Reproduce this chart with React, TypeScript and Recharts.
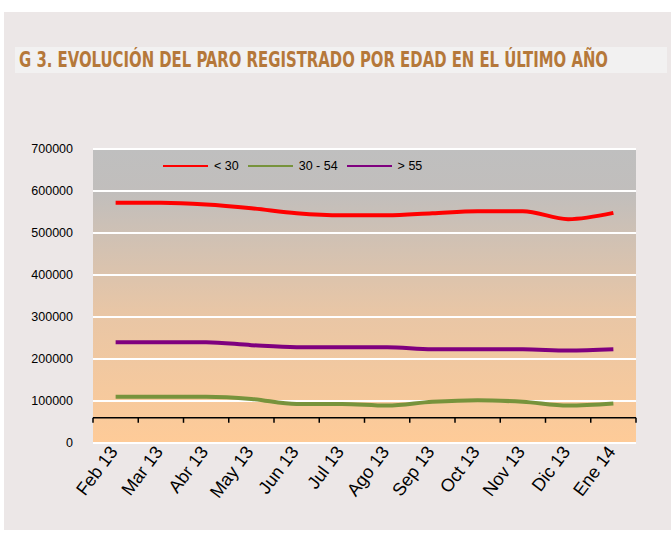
import React from "react";
import {
  ComposedChart,
  Line,
  XAxis,
  YAxis,
  CartesianGrid,
  ReferenceLine,
} from "recharts";

const months = [
  "Feb 13",
  "Mar 13",
  "Abr 13",
  "May 13",
  "Jun 13",
  "Jul 13",
  "Ago 13",
  "Sep 13",
  "Oct 13",
  "Nov 13",
  "Dic 13",
  "Ene 14",
];

const under30 = [572000, 572000, 568000, 559000, 547000, 542000, 542000, 547000, 552000, 552000, 533000, 548000];
const from30to54 = [110000, 110000, 110000, 105000, 93000, 93000, 89000, 98000, 102000, 98000, 89000, 94000];
const over55 = [240000, 240000, 240000, 233000, 228000, 228000, 228000, 223000, 223000, 223000, 220000, 223000];

const yTicks = [0, 100000, 200000, 300000, 400000, 500000, 600000, 700000];
const axisCross = 60000;

const series = [
  { key: "u30", name: "< 30", color: "#ff0000", values: under30 },
  { key: "m30", name: "30 - 54", color: "#77933c", values: from30to54 },
  { key: "o55", name: "> 55", color: "#7f007f", values: over55 },
];

const data = months.map((m, i) => ({
  month: m,
  u30: under30[i],
  m30: from30to54[i],
  o55: over55[i],
}));

const FONT = "'Liberation Sans', Arial, sans-serif";

function MonthTick(props: any) {
  const { x, y, payload } = props;
  const ax = x + 3;
  const ay = y + 1;
  return (
    <text
      x={ax}
      y={ay}
      transform={`rotate(-53, ${ax}, ${ay})`}
      textAnchor="end"
      fontFamily={FONT}
      fontSize={18}
      fill="#000"
    >
      {payload.value}
    </text>
  );
}

function AxisLine(props: any) {
  const { x1, y1, x2 } = props;
  const step = (x2 - x1) / months.length;
  const marks = Array.from({ length: months.length + 1 }, (_, i) => x1 + i * step);
  return (
    <g>
      <line x1={x1} y1={y1} x2={x2} y2={y1} stroke="#000" strokeWidth={1.5} />
      {marks.map((mx, i) => (
        <line key={i} x1={mx} y1={y1} x2={mx} y2={y1 + 5} stroke="#000" strokeWidth={1.5} />
      ))}
    </g>
  );
}

function LegendBox() {
  return (
    <div style={{ display: "flex", alignItems: "center", fontFamily: FONT, fontSize: 12.5, color: "#000" }}>
      {series.map((s) => (
        <div key={s.key} style={{ display: "flex", alignItems: "center", marginRight: 9 }}>
          <div style={{ width: 45, height: 2, background: s.color, marginRight: 6 }} />
          <span>{s.name}</span>
        </div>
      ))}
    </div>
  );
}

export default function App() {
  return (
    <div style={{ position: "absolute", left: 0, top: 0, width: 671, height: 534, background: "#fff" }}>
      <div style={{ position: "absolute", left: 4, top: 12, width: 667, height: 518, background: "#ece7e7" }} />
      <div style={{ position: "absolute", left: 15, top: 47, width: 652, height: 26, background: "#f2f1f1" }} />
      <svg style={{ position: "absolute", left: 0, top: 0 }} width={671} height={80}>
        <text
          transform="translate(19, 67) scale(1, 1.25)"
          x={0}
          y={0}
          textLength={589}
          lengthAdjust="spacingAndGlyphs"
          fontFamily="'DejaVu Sans Condensed', 'Liberation Sans Narrow', sans-serif"
          fontWeight="bold"
          fontSize={17}
          fill="#b5783a"
        >
          G 3. EVOLUCIÓN DEL PARO REGISTRADO POR EDAD EN EL ÚLTIMO AÑO
        </text>
      </svg>
      <div style={{ position: "absolute", left: 0, top: 0 }}>
        <ComposedChart
          width={671}
          height={534}
          data={data}
          margin={{ top: 149, right: 35, left: 17, bottom: 11 }}
        >
          <defs>
            <linearGradient id="plotBg" x1="0" y1="0" x2="0" y2="1">
              <stop offset="0%" stopColor="#bfbfbf" />
              <stop offset="15%" stopColor="#c1bebc" />
              <stop offset="55%" stopColor="#e8c6a6" />
              <stop offset="100%" stopColor="#fecb98" />
            </linearGradient>
          </defs>
          <CartesianGrid
            vertical={false}
            stroke="#ffffff"
            strokeWidth={2}
            fill="url(#plotBg)"
            fillOpacity={1}
          />
          <XAxis
            dataKey="month"
            scale="band"
            axisLine={false}
            tickLine={false}
            interval={0}
            height={80}
            tick={<MonthTick />}
          />
          <YAxis
            domain={[0, 700000]}
            ticks={yTicks}
            axisLine={false}
            tickLine={false}
            width={76}
            tickMargin={14}
            tick={{ fontFamily: FONT, fontSize: 12.5, fill: "#000" }}
          />
          <ReferenceLine y={axisCross} shape={<AxisLine />} ifOverflow="extendDomain" />
          {series.map((s) => (
            <Line
              key={s.key}
              type="monotone"
              dataKey={s.key}
              name={s.name}
              stroke={s.color}
              strokeWidth={4}
              dot={false}
              activeDot={false}
              isAnimationActive={false}
            />
          ))}
        </ComposedChart>
      </div>
      <div style={{ position: "absolute", left: 163, top: 159 }}>
        <LegendBox />
      </div>
    </div>
  );
}
